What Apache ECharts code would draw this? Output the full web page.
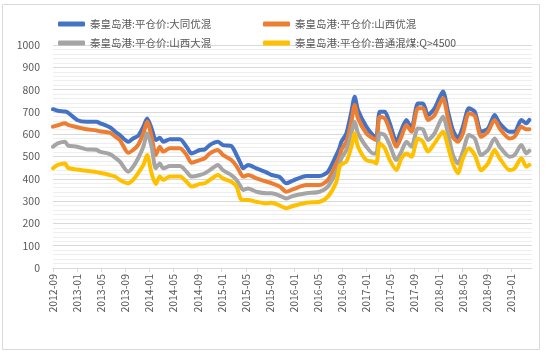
<!DOCTYPE html>
<html><head><meta charset="utf-8">
<script src="https://cdn.jsdelivr.net/npm/echarts@6/dist/echarts.min.js"></script>
<style>html,body{margin:0;padding:0;background:#fff}#c{width:546px;height:355px}</style>
</head><body><div id="c"></div>
<script>
const seriesNames = ['秦皇岛港:平仓价:大同优混','秦皇岛港:平仓价:山西优混','秦皇岛港:平仓价:山西大混','秦皇岛港:平仓价:普通混煤:Q>4500'];
const dates = ['2012-09-01','2012-09-25','2012-11-01','2012-11-16','2013-01-01','2013-02-18','2013-04-08','2013-04-24','2013-06-14','2013-07-10',
'2013-08-04','2013-09-16','2013-10-10','2013-11-05','2013-12-01','2013-12-20','2014-01-12','2014-02-03','2014-02-23','2014-03-10',
'2014-04-13','2014-06-03','2014-07-06','2014-08-01','2014-09-12','2014-10-07','2014-11-02','2014-12-12','2015-01-07','2015-02-19',
'2015-03-15','2015-04-05','2015-04-18','2015-05-13','2015-06-24','2015-08-14','2015-09-10','2015-10-20','2015-11-23','2015-12-26',
'2016-03-03','2016-05-09','2016-06-20','2016-08-02','2016-08-18','2016-08-27','2016-09-22','2016-10-17','2016-11-03','2016-11-20',
'2017-01-01','2017-02-04','2017-02-21','2017-03-08','2017-04-03','2017-04-28','2017-06-01','2017-06-26','2017-07-21','2017-08-16',
'2017-09-18','2017-10-13','2017-11-08','2017-12-11','2018-01-23','2018-02-18','2018-03-12','2018-04-07','2018-05-02','2018-06-02',
'2018-07-01','2018-08-03','2018-09-07','2018-10-10','2018-11-05','2018-12-25','2019-01-20','2019-02-23','2019-03-18','2019-04-03'];
const datong = [712,705,702,697,664,656,656,650,631,612,
596,566,581,593,634,670,626,574,584,566,
577,577,544,514,529,532,552,566,551,547,
507,470,447,462,447,429,417,408,380,392,
413,413,432,507,540,566,604,701,768,708,
634,596,589,701,701,649,566,619,664,626,
738,738,686,716,791,701,619,581,634,716,
701,611,626,686,649,611,611,664,649,664];
const shanxiYou = [634,640,649,642,631,622,617,613,607,590,
574,517,529,552,604,656,589,507,544,522,
537,537,507,472,484,492,514,529,507,484,
457,425,410,417,402,387,380,365,342,353,
372,372,395,469,500,529,566,656,731,671,
604,581,574,678,671,619,544,589,641,611,
716,716,664,686,761,671,589,566,604,694,
682,589,611,664,626,581,589,634,622,622];
const shanxiDa = [544,559,566,549,544,532,530,522,511,495,
477,432,454,492,544,604,544,447,469,447,
457,457,432,410,417,425,439,462,439,417,
395,365,350,357,342,335,335,324,312,323,
335,342,365,432,465,492,529,604,656,604,
544,514,514,604,596,552,484,522,566,544,
626,622,574,604,678,604,507,469,522,596,
581,507,529,581,544,499,507,552,514,526];
const putong = [447,462,469,449,442,436,430,427,417,410,
395,380,395,425,462,507,425,377,410,395,
410,410,387,365,377,380,395,417,402,387,
365,310,305,305,297,290,293,280,268,278,
293,297,320,387,454,465,477,544,604,544,
484,477,469,559,537,484,439,492,514,499,
581,566,522,559,611,544,469,425,492,537,
507,439,469,529,492,439,447,492,454,462];
const tickMonths = [0,4,8,12,16,20,24,28,32,36,40,44,48,52,56,60,64,68,72,76];
const colors = ['#4472C4','#ED7D31','#A5A5A5','#FFC000'];

function toMonths(s){const p=s.split('-').map(Number);return (p[0]-2012)*12+(p[1]-9)+(p[2]-1)/30.4;}
function monthLabel(v){const t=8+Math.round(v);const y=2012+Math.floor(t/12);const m=t%12+1;return y+'-'+(m<10?'0':'')+m;}
const allVals=[datong,shanxiYou,shanxiDa,putong];
const chart=echarts.init(document.getElementById('c'));
const labelColor='#595959';
const font='"Noto Sans CJK SC", "Noto Sans", sans-serif';
const legendBase={orient:'vertical',top:12,padding:5,itemWidth:27,itemHeight:5,itemGap:5,icon:'roundRect',
  textStyle:{color:labelColor,fontSize:10.5,lineHeight:14,fontFamily:font}};
chart.setOption({
  animation:false,
  graphic:[{type:'rect',shape:{x:2.5,y:4.5,width:537,height:345},style:{fill:'none',stroke:'#d9d9d9',lineWidth:1},silent:true}],
  legend:[
    Object.assign({},legendBase,{data:[seriesNames[0],seriesNames[2]],left:53}),
    Object.assign({},legendBase,{data:[seriesNames[1],seriesNames[3]],left:258})
  ],
  grid:{left:53,right:14,top:45,bottom:87,containLabel:false},
  xAxis:{type:'value',min:0,max:79.5,interval:4,
    axisLine:{lineStyle:{color:'#d9d9d9'}},
    axisTick:{show:true,length:4,lineStyle:{color:'#d9d9d9'},customValues:tickMonths},
    axisLabel:{rotate:90,color:labelColor,fontSize:10.5,fontFamily:font,margin:6,customValues:tickMonths,formatter:v=>monthLabel(v)},
    splitLine:{show:false}},
  yAxis:{type:'value',min:0,max:1000,interval:100,
    axisLine:{show:false},axisTick:{show:false},
    axisLabel:{color:labelColor,fontSize:10.5,fontFamily:font,margin:13,formatter:v=>String(v)},
    splitLine:{lineStyle:{color:'#d9d9d9'}},
    minorTick:{show:false,splitNumber:5},
    minorSplitLine:{show:true,lineStyle:{color:'#eeeeee'}}},
  series:seriesNames.map((n,i)=>({name:n,type:'line',showSymbol:false,smooth:0.25,
    color:colors[i],lineStyle:{width:4,color:colors[i],cap:'round',join:'round'},
    data:dates.map((d,j)=>[toMonths(d),allVals[i][j]])}))
});
</script></body></html>
